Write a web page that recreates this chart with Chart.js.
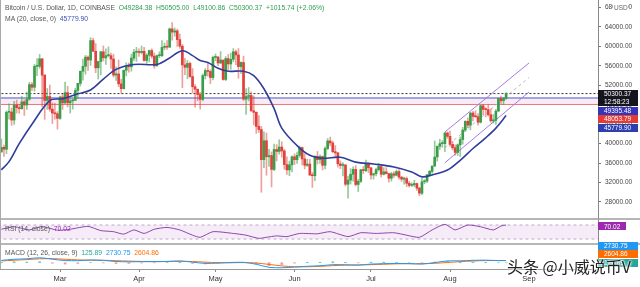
<!DOCTYPE html>
<html>
<head>
<meta charset="utf-8">
<script src="https://cdn.jsdelivr.net/npm/chart.js@4.4.0/dist/chart.umd.min.js"></script>
<style>
  html, body { margin: 0; padding: 0; background: #fff; }
  #wrap { position: relative; width: 640px; height: 287px; overflow: hidden; }
  canvas { display: block; }
  .lbl { position: absolute; left: 5px; font: 6.8px "Liberation Sans", Arial, sans-serif; color: #555; white-space: nowrap; line-height: 8px; }
  .mark { position: absolute; left: 507px; top: 254px; font: 16px "Noto Sans CJK SC", sans-serif; color: #222; white-space: nowrap;
          text-shadow: 0 0 2px #fff, 0 0 2px #fff, 0 0 3px #fff; }
</style>
</head>
<body>
<div id="wrap">
  <canvas id="chart" width="640" height="287"></canvas>
  <div class="lbl" style="top:4px">Bitcoin / U.S. Dollar, 1D, COINBASE&nbsp; <span style="color:#2e9e4f">O49284.38&nbsp; H50505.00&nbsp; L49100.86&nbsp; C50300.37&nbsp; +1015.74 (+2.06%)</span></div>
  <div class="lbl" style="top:15px">MA (20, close, 0)&nbsp; <span style="color:#3f51b5">45779.90</span></div>
  <div class="lbl" style="top:225px">RSI (14, close)&nbsp; <span style="color:#9c27b0">70.02</span></div>
  <div class="lbl" style="top:249px">MACD (12, 26, close, 9)&nbsp; <span style="color:#26a69a">125.89</span>&nbsp; <span style="color:#2196f3">2730.75</span>&nbsp; <span style="color:#ff6d00">2604.86</span></div>
  <div class="mark">头条 @小威说币V</div>
</div>
<script>
// BTC/USD daily candles, Feb 6 -> Aug 23 (day index 0 = Feb 6)
const opens = [
  38300, 39250, 38850, 46450, 46500, 44850, 47950, 47400, 47200, 48600,
  47950, 49150, 52150, 51600, 55900, 55900, 57450, 54100, 48900, 49700,
  47100, 46300, 46150, 45200, 49600, 48400, 50500, 48400, 48800, 48900,
  50950, 52400, 54900, 55900, 57800, 57200, 61200, 59000, 55600, 56900,
  58900, 57650, 58100, 58100, 57400, 54100, 54350, 52300, 51300, 55100,
  55850, 55800, 57600, 58800, 58800, 58750, 59000, 57100, 58200, 59150,
  58000, 56000, 58100, 58100, 59800, 59900, 59850, 63600, 62950, 63200,
  61400, 60050, 56200, 55700, 56500, 53800, 51700, 51200, 50100, 49100,
  54000, 55050, 54850, 53600, 57750, 57800, 56600, 57200, 53200, 57500,
  56400, 57350, 58900, 58250, 55850, 56700, 49150, 49700, 49900, 46750,
  46450, 43550, 42900, 36700, 40600, 37300, 37550, 34700, 38800, 38400,
  39300, 38500, 35700, 34600, 35650, 37300, 36700, 37600, 39200, 36850,
  35550, 35800, 33550, 33400, 37400, 36700, 37350, 35550, 39000, 40550,
  40150, 38350, 38100, 35850, 35500, 35600, 31650, 32500, 33700, 34700,
  31600, 32250, 34650, 34450, 35900, 35050, 33550, 33800, 34650, 35300,
  33700, 34200, 33850, 32880, 33800, 33500, 34250, 33100, 32700, 32800,
  31850, 31400, 31550, 31800, 30850, 29800, 32150, 32300, 33600, 34300,
  35400, 37250, 39450, 40000, 40000, 42200, 41500, 39850, 39150, 38200,
  39750, 40850, 42800, 44600, 43800, 46300, 45600, 45550, 44400, 47800,
  47050, 47000, 45950, 44700, 44800, 46700, 49300, 48850, 49284.38
];
const highs = [
  40950, 39700, 46750, 48200, 47300, 48700, 48950, 48100, 49700, 49000,
  50600, 52600, 52550, 56300, 57500, 58350, 57500, 54200, 51350, 52050,
  48400, 48300, 46600, 49800, 50150, 52650, 51800, 49450, 49200, 51400,
  52400, 54900, 57400, 58150, 58050, 61800, 61650, 60600, 56950, 58950,
  60100, 59500, 59900, 58650, 58400, 55800, 57200, 53250, 55100, 56650,
  56600, 58400, 59400, 59800, 59500, 60100, 59800, 58500, 59250, 59500,
  58650, 58200, 58900, 61200, 60700, 61200, 63800, 64900, 63800, 63550,
  62550, 60400, 57550, 57100, 56800, 55450, 52150, 51200, 50550, 54350,
  55450, 56450, 55200, 58000, 58450, 57950, 58950, 57200, 57900, 58350,
  58650, 59550, 59250, 59550, 56850, 58000, 51350, 51550, 50650, 49800,
  46550, 45800, 43550, 42450, 42200, 38850, 38300, 39900, 39800, 40800,
  40400, 38850, 37300, 36400, 37500, 37900, 38250, 39500, 39300, 37900,
  36800, 36800, 34100, 37550, 38400, 37700, 37450, 39350, 41050, 41350,
  40500, 39600, 38200, 36450, 36100, 35750, 33350, 34850, 35250, 35500,
  32700, 34700, 35300, 36600, 36050, 35050, 33950, 34950, 35950, 35300,
  35050, 35050, 33900, 34100, 34250, 34600, 34650, 33300, 33100, 33150,
  32250, 31950, 32450, 31900, 31050, 32850, 32600, 33650, 34500, 35400,
  40550, 39550, 40900, 40650, 42300, 42400, 42600, 40450, 39750, 39950,
  41400, 43350, 44700, 45300, 46450, 46650, 46750, 46200, 47900, 48100,
  47400, 48050, 47150, 46000, 47050, 49350, 49800, 49500, 50505.00
];
const lows = [
  38200, 37350, 37950, 45050, 43750, 43950, 46300, 46250, 47050, 45800,
  47050, 48900, 50950, 50800, 54000, 55500, 47600, 45000, 47050, 46650,
  44150, 45050, 43000, 45000, 47050, 48150, 47550, 46300, 47100, 48900,
  49300, 51850, 53050, 54300, 55050, 56100, 58950, 54600, 53300, 54150,
  57000, 56300, 57850, 55500, 53700, 53000, 51700, 50400, 51250, 53950,
  54700, 54900, 57050, 56900, 57950, 58450, 56950, 56500, 56800, 57600,
  55500, 55950, 57700, 57900, 59350, 59400, 59800, 61300, 62100, 60000,
  59600, 51500, 54200, 53350, 53600, 50450, 47500, 48800, 47100, 48800,
  53300, 53900, 52350, 53100, 57050, 56050, 56450, 53050, 52950, 55200,
  55300, 56850, 56250, 53450, 54450, 48900, 46000, 48800, 46650, 43850,
  42100, 42300, 30000, 35050, 33500, 35300, 31100, 34450, 36450, 37850,
  37200, 34750, 33650, 33400, 34200, 35700, 35950, 37200, 35600, 34800,
  35300, 33400, 31000, 32400, 35800, 35950, 34600, 34800, 38750, 39550,
  38150, 37400, 35150, 34850, 33350, 31300, 28800, 31700, 32300, 31300,
  30150, 32000, 33850, 34250, 34050, 32700, 32700, 33350, 34350, 33150,
  33550, 33750, 32100, 32300, 33050, 33350, 32700, 32250, 31650, 31150,
  31050, 31200, 31150, 30400, 29300, 29500, 31750, 31950, 33400, 33900,
  35300, 36400, 38800, 39250, 38350, 41100, 39450, 38700, 37650, 37550,
  37350, 39900, 42500, 43300, 42850, 44700, 45350, 43800, 44250, 45950,
  45500, 45650, 44400, 44250, 43950, 46600, 48300, 48050, 49100.86
];
const closes = [
  39250, 38850, 46450, 46500, 44850, 47950, 47400, 47200, 48600, 47950,
  49150, 52150, 51600, 55900, 55900, 57450, 54100, 48900, 49700, 47100,
  46300, 46150, 45200, 49600, 48400, 50500, 48400, 48800, 48900, 50950,
  52400, 54900, 55900, 57800, 57200, 61200, 59000, 55600, 56900, 58900,
  57650, 58100, 58100, 57400, 54100, 54350, 52300, 51300, 55100, 55850,
  55800, 57600, 58800, 58800, 58750, 59000, 57100, 58200, 59150, 58000,
  56000, 58100, 58100, 59800, 59900, 59850, 63600, 62950, 63200, 61400,
  60050, 56200, 55700, 56500, 53800, 51700, 51200, 50100, 49100, 54000,
  55050, 54850, 53600, 57750, 57800, 56600, 57200, 53200, 57500, 56400,
  57350, 58900, 58250, 55850, 56700, 49150, 49700, 49900, 46750, 46450,
  43550, 42900, 36700, 40600, 37300, 37550, 34700, 38800, 38400, 39300,
  38500, 35700, 34600, 35650, 37300, 36700, 37600, 39200, 36850, 35550,
  35800, 33550, 33400, 37400, 36700, 37350, 35550, 39000, 40550, 40150,
  38350, 38100, 35850, 35500, 35600, 31650, 32500, 33700, 34700, 31600,
  32250, 34650, 34450, 35900, 35050, 33550, 33800, 34650, 35300, 33700,
  34200, 33850, 32880, 33800, 33500, 34250, 33100, 32700, 32800, 31850,
  31400, 31550, 31800, 30850, 29800, 32150, 32300, 33600, 34300, 35400,
  37250, 39450, 40000, 40000, 42200, 41500, 39850, 39150, 38200, 39750,
  40850, 42800, 44600, 43800, 46300, 45600, 45550, 44400, 47800, 47050,
  47000, 45950, 44700, 44800, 46700, 49300, 48850, 49284.38, 50300.37
];

// MA(20)
const maDays = [0, 3, 7, 12, 19, 24, 30, 35, 40, 45, 52, 61, 65, 71, 75, 78, 81, 85, 89, 95,
  99, 103, 107, 110, 116, 121, 126, 133, 139, 146, 154, 161, 165, 169, 175, 180, 185, 190, 194, 198];
const maValues = [34600, 36300, 40000, 44000, 48850, 49250, 50250, 51050, 53270, 55280, 56280, 56280,
  57300, 59100, 58100, 57100, 56700, 55500, 54900, 54900, 54000, 51300, 47200, 43200, 39600, 37600,
  37000, 37200, 36200, 35800, 35200, 34170, 33170, 33570, 34570, 36580, 39000, 41200, 43200, 45779.90];

// RSI(14)
const rsiDays = [0, 5, 11, 16, 22, 27, 34, 39, 44, 48, 52, 56, 60, 65, 70, 75, 78, 83, 91, 96, 101,
  104, 108, 112, 117, 124, 129, 136, 141, 147, 154, 159, 164, 169, 174, 178, 183, 188, 193, 196, 198];
const rsiValues = [58, 65, 56, 66, 55, 58, 66, 54, 51, 44, 56, 46, 58, 63, 56, 41, 35, 51, 46, 41, 32,
  35, 39, 37, 46, 45, 51, 37, 48, 46, 48, 41, 35, 56, 72, 56, 70, 65, 56, 67, 70.02];

// MACD(12, 26, 9)
const macdDays = [0, 5, 10, 15, 20, 25, 30, 35, 40, 45, 50, 55, 60, 65, 70, 75, 80, 85, 90, 95, 100,
  105, 110, 115, 120, 125, 130, 135, 140, 145, 150, 155, 160, 165, 170, 175, 180, 185, 190, 195, 198];
const macdLine = [2800, 4200, 4700, 6000, 4300, 2600, 2500, 3300, 2800, 1500, 1100, 1300, 1300, 1600,
  2200, 700, -800, -400, 300, 500, -1800, -5500, -6000, -5200, -4200, -3600, -2300, -2400, -2800, -1600,
  -1100, -900, -1100, -1500, 200, 2200, 2300, 2900, 3100, 2600, 2730.75];
const signalLine = [2200, 3000, 3800, 4700, 4900, 4200, 3400, 3100, 3000, 2500, 2000, 1600, 1400, 1400,
  1700, 1500, 700, 100, 0, 200, -300, -2000, -3800, -4800, -4800, -4300, -3500, -2900, -2700, -2300,
  -1800, -1300, -1100, -1200, -700, 300, 1300, 2100, 2600, 2600, 2604.86];
const histValues = [600, 1200, 900, 1300, -600, -1600, -900, 200, -200, -1000, -900, -300, -100, 200,
  500, -800, -1500, -500, 300, 300, -1500, -3500, -2200, -400, 600, 700, 1200, 500, -100, 700, 700,
  400, 0, -300, 900, 1900, 1000, 800, 500, 0, 125.89];

// drawn levels and channel
const lastPrice = 50300.37;
const countdown = "12:58:23";
const levelHigh = 49395.48;
const levelLow = 48053.79;
const channelDays = [174, 207];
const channelUpper = [42400, 56600];
const channelMid = [39200, 53600];
const channelLower = [36070, 50630];

const monthDays = [23, 54, 84, 115, 145, 176, 207];
const monthLabels = ["Mar", "Apr", "May", "Jun", "Jul", "Aug", "Sep"];
const priceTicks = [28000, 32000, 36000, 40000, 44000, 48000, 52000, 56000, 60000, 64000, 68000];

const FONT = "Liberation Sans";
const xMin = -0.54, xMax = 234.06;

const pts = (xs, ys) => xs.map((x, i) => ({ x: x, y: ys[i] }));
const flat = (v) => [{ x: xMin - 1, y: v }, { x: xMax + 1, y: v }];

const up = closes.map((c, i) => c >= opens[i]);
const bodyColors = up.map((u) => (u ? "#3a9d48" : "#e0413a"));
const wickColors = up.map((u) => (u ? "rgba(58,157,72,0.55)" : "rgba(224,65,58,0.5)"));

// keep tick labels from adding padding round the plot area
function fixSize(w, h) {
  return (s) => {
    if (w) s.width = w;
    if (h) s.height = h;
    s.paddingTop = 0;
    s.paddingBottom = 0;
    s.paddingLeft = 0;
    s.paddingRight = 0;
  };
}

function tag(ctx, yc, text, bg, w) {
  ctx.fillStyle = bg;
  ctx.fillRect(598, Math.round(yc - 4), w || 40, 8);
  ctx.fillStyle = "#fff";
  ctx.textBaseline = "middle";
  ctx.textAlign = "left";
  ctx.fillText(text, 604, yc + 0.5);
}

const overlay = {
  id: "overlay",
  afterDraw(chart) {
    const ctx = chart.ctx;
    const { y, rsi, macd } = chart.scales;
    ctx.save();
    // pane separators and frame
    ctx.strokeStyle = "#9e9e9e";
    ctx.lineWidth = 1.5;
    [rsi.top, macd.top].forEach((t) => {
      ctx.beginPath();
      ctx.moveTo(0, t);
      ctx.lineTo(640, t);
      ctx.stroke();
    });
    ctx.lineWidth = 1;
    ctx.strokeStyle = "#aaa";
    ctx.beginPath();
    ctx.moveTo(0.5, 0);
    ctx.lineTo(0.5, macd.bottom);
    ctx.stroke();

    // price scale tags
    ctx.font = "6.5px " + FONT;
    let yc = y.getPixelForValue(lastPrice);
    ctx.fillStyle = "#151520";
    ctx.fillRect(598, Math.round(yc - 4), 40, 16);
    ctx.fillStyle = "#fff";
    ctx.textBaseline = "middle";
    ctx.fillText(lastPrice.toFixed(2), 604, yc + 0.5);
    ctx.fillText(countdown, 604, yc + 8.5);
    yc = Math.max(y.getPixelForValue(levelHigh), yc + 17);
    tag(ctx, yc, levelHigh.toFixed(2), "#3535b8");
    yc = Math.max(y.getPixelForValue(levelLow), yc + 8.5);
    tag(ctx, yc, levelLow.toFixed(2), "#e53b35");
    yc = Math.max(y.getPixelForValue(maValues[maValues.length - 1]), yc + 8.5);
    tag(ctx, yc, maValues[maValues.length - 1].toFixed(2), "#2d3fae");

    // indicator tags
    tag(ctx, rsi.getPixelForValue(rsiValues[rsiValues.length - 1]) + 1.5, "70.02", "#9c27b0", 28);
    let my = Math.min(macd.getPixelForValue(histValues[histValues.length - 1]), macd.bottom - 6);
    tag(ctx, my, histValues[histValues.length - 1].toFixed(2), "#26a69a");
    my -= 8.5;
    tag(ctx, my, signalLine[signalLine.length - 1].toFixed(2), "#ff6d00");
    my -= 8.5;
    tag(ctx, my, macdLine[macdLine.length - 1].toFixed(2), "#2196f3");

    // currency label at the top of the price scale
    ctx.fillStyle = "#fff";
    ctx.fillRect(613, 3, 15, 9);
    ctx.fillStyle = "#666";
    ctx.fillText("USD", 614, 8);
    ctx.restore();
  },
};

new Chart(document.getElementById("chart").getContext("2d"), {
  type: "bar",
  data: {
    datasets: [
      { type: "line", data: pts(maDays, maValues), yAxisID: "y", borderColor: "#2f3d9c", borderWidth: 1.6,
        pointRadius: 0, tension: 0.35, order: 0 },
      { type: "bar", data: closes.map((c, i) => ({ x: i, y: [opens[i], c] })), yAxisID: "y",
        backgroundColor: bodyColors, barThickness: 2, minBarLength: 1, grouped: false, order: 1 },
      { type: "bar", data: closes.map((c, i) => ({ x: i, y: [lows[i], highs[i]] })), yAxisID: "y",
        backgroundColor: wickColors, barThickness: 1, grouped: false, order: 2 },
      { type: "line", data: pts(channelDays, channelUpper), yAxisID: "y", borderColor: "#a57be6",
        borderWidth: 1, pointRadius: 0, order: 3 },
      { type: "line", data: pts(channelDays, channelLower), yAxisID: "y", borderColor: "#a57be6",
        borderWidth: 1, pointRadius: 0, order: 3 },
      { type: "line", data: pts(channelDays, channelMid), yAxisID: "y", borderColor: "#b8b8c4",
        borderDash: [3, 3], borderWidth: 1, pointRadius: 0, order: 3 },
      { type: "line", data: flat(lastPrice), yAxisID: "y", borderColor: "#333", borderDash: [2, 2],
        borderWidth: 1, pointRadius: 0, order: 4 },
      { type: "line", data: flat(levelHigh), yAxisID: "y", borderColor: "#4a55c4", borderWidth: 1,
        pointRadius: 0, order: 4 },
      { type: "line", data: flat(levelLow), yAxisID: "y", borderColor: "#e77a7a", borderWidth: 1,
        pointRadius: 0, fill: "-1", backgroundColor: "rgba(220,140,200,0.18)", order: 4 },
      { type: "line", data: flat(70), yAxisID: "rsi", borderColor: "rgba(150,120,170,0.6)",
        borderDash: [3, 3], borderWidth: 1, pointRadius: 0, order: 5 },
      { type: "line", data: flat(30), yAxisID: "rsi", borderColor: "rgba(150,120,170,0.6)",
        borderDash: [3, 3], borderWidth: 1, pointRadius: 0, fill: "-1",
        backgroundColor: "rgba(156,39,176,0.09)", order: 5 },
      { type: "line", data: pts(rsiDays, rsiValues), yAxisID: "rsi", borderColor: "#8e44ad",
        borderWidth: 1, pointRadius: 0, tension: 0.2, order: 0 },
      { type: "line", data: pts(macdDays, macdLine), yAxisID: "macd", borderColor: "#2196f3",
        borderWidth: 1, pointRadius: 0, tension: 0.3, order: 0 },
      { type: "line", data: pts(macdDays, signalLine), yAxisID: "macd", borderColor: "#ff6d00",
        borderWidth: 1, pointRadius: 0, tension: 0.3, order: 0 },
      { type: "bar", data: pts(macdDays, histValues), yAxisID: "macd", barThickness: 2, grouped: false,
        backgroundColor: histValues.map((v) => (v >= 0 ? "rgba(38,166,154,0.6)" : "rgba(239,83,80,0.6)")),
        order: 1 },
    ],
  },
  options: {
    responsive: false,
    animation: false,
    layout: { padding: 0, autoPadding: false },
    plugins: { legend: { display: false }, tooltip: { enabled: false } },
    scales: {
      x: {
        type: "linear", min: xMin, max: xMax, offset: false,
        afterBuildTicks: (s) => { s.ticks = monthDays.map((v) => ({ value: v })); },
        ticks: { callback: (v, i) => monthLabels[i], color: "#333", font: { size: 7.5, family: FONT },
          padding: 2, maxRotation: 0, autoSkip: false },
        grid: { display: true, drawOnChartArea: false, tickLength: 3, color: "#888", offset: false },
        border: { display: true, color: "#999" },
        afterFit: fixSize(0, 18),
      },
      y: {
        position: "right", stack: "pane", stackWeight: 219, min: 24500, max: 69550,
        afterBuildTicks: (s) => { s.ticks = priceTicks.map((v) => ({ value: v })); },
        ticks: { callback: (v) => v.toFixed(2), color: "#444", font: { size: 6.5, family: FONT }, padding: 4 },
        grid: { display: true, drawOnChartArea: false, tickLength: 3, color: "#777" },
        border: { display: true, color: "#888" },
        afterFit: fixSize(42, 0),
      },
      rsi: {
        position: "right", stack: "pane", stackWeight: 25, min: 16, max: 87,
        ticks: { display: false }, grid: { display: false }, border: { display: true, color: "#888" },
        afterFit: fixSize(42, 0),
      },
      macd: {
        position: "right", stack: "pane", stackWeight: 25, min: -7500, max: 22500,
        ticks: { display: false }, grid: { display: false }, border: { display: true, color: "#888" },
        afterFit: fixSize(42, 0),
      },
    },
  },
  plugins: [overlay],
});
</script>
</body>
</html>
